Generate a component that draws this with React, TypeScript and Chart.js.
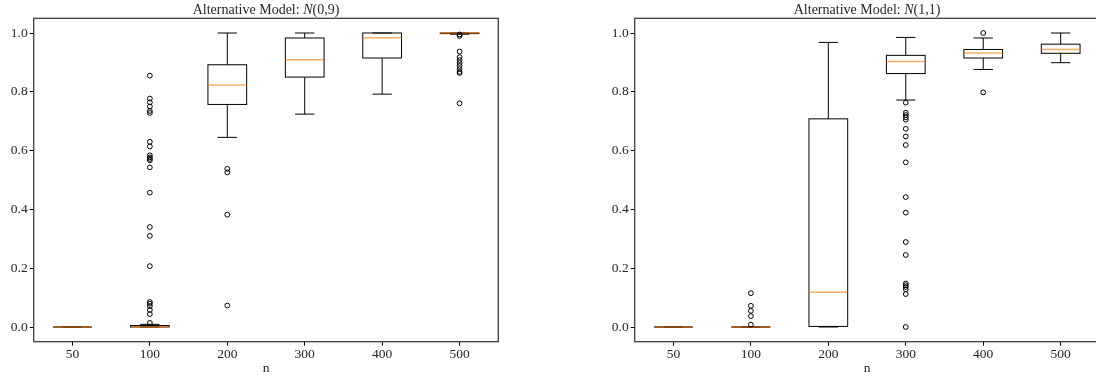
import React, { useEffect, useRef } from 'react';
import { Chart, registerables } from 'chart.js';

Chart.register(...registerables);

// ---------- data ----------
const CATEGORIES = ['50', '100', '200', '300', '400', '500'];
const Y_TICKS = [0, 0.2, 0.4, 0.6, 0.8, 1.0];
const X_LABEL = 'n';

// Left panel: Alternative Model N(0,9)
const LEFT_TITLE = ['Alternative Model: ', 'N', '(0,9)'];
const LEFT_WHISKER_LOW = [0, 0, 0.645, 0.724, 0.792, 0.996];
const LEFT_Q1 = [0, 0, 0.757, 0.85, 0.915, 0.998];
const LEFT_MEDIAN = [0, 0, 0.823, 0.909, 0.984, 1.0];
const LEFT_Q3 = [0, 0.005, 0.892, 0.983, 1.0, 1.0];
const LEFT_WHISKER_HIGH = [0, 0.009, 1.0, 1.0, 1.0, 1.0];
const LEFT_OUTLIERS_50: number[] = [];
const LEFT_OUTLIERS_100 = [0.855, 0.777, 0.764, 0.75, 0.735, 0.728, 0.63, 0.614, 0.584, 0.577, 0.572, 0.567, 0.543, 0.457, 0.34, 0.31, 0.207, 0.085, 0.079, 0.071, 0.058, 0.044, 0.014];
const LEFT_OUTLIERS_200 = [0.538, 0.526, 0.382, 0.073];
const LEFT_OUTLIERS_300: number[] = [];
const LEFT_OUTLIERS_400: number[] = [];
const LEFT_OUTLIERS_500 = [0.995, 0.99, 0.937, 0.918, 0.908, 0.898, 0.888, 0.877, 0.868, 0.864, 0.761];

// Right panel: Alternative Model N(1,1)
const RIGHT_TITLE = ['Alternative Model: ', 'N', '(1,1)'];
const RIGHT_WHISKER_LOW = [0, 0, 0, 0.772, 0.876, 0.899];
const RIGHT_Q1 = [0, 0, 0.002, 0.862, 0.915, 0.931];
const RIGHT_MEDIAN = [0, 0, 0.118, 0.903, 0.932, 0.944];
const RIGHT_Q3 = [0, 0, 0.708, 0.924, 0.944, 0.962];
const RIGHT_WHISKER_HIGH = [0, 0, 0.968, 0.985, 0.983, 1.0];
const RIGHT_OUTLIERS_50: number[] = [];
const RIGHT_OUTLIERS_100 = [0.115, 0.072, 0.055, 0.037, 0.008];
const RIGHT_OUTLIERS_200: number[] = [];
const RIGHT_OUTLIERS_300 = [0.763, 0.729, 0.721, 0.713, 0.705, 0.674, 0.648, 0.619, 0.56, 0.442, 0.389, 0.289, 0.245, 0.148, 0.142, 0.136, 0.128, 0.112, 0.0];
const RIGHT_OUTLIERS_400 = [1.0, 0.798];
const RIGHT_OUTLIERS_500: number[] = [];

// ---------- styling ----------
const FONT_FAMILY = '"Liberation Serif", "DejaVu Serif", serif';
const TEXT_COLOR = '#262626';
const MEDIAN_COLOR = 'rgba(255,127,14,0.65)';

type Stats = {
  low: number[];
  q1: number[];
  med: number[];
  q3: number[];
  high: number[];
  title: string[];
};

function makeBoxPlugin(stats: Stats) {
  return {
    id: 'boxDraw',
    beforeDatasetsDraw(chart: any) {
      const { ctx, chartArea, scales } = chart;
      const x = scales.x;
      const y = scales.y;
      const step = x.getPixelForValue(1) - x.getPixelForValue(0);
      const hw = step * 0.25;
      const cw = step * 0.125;
      ctx.save();
      ctx.beginPath();
      ctx.rect(chartArea.left, chartArea.top, chartArea.right - chartArea.left, chartArea.bottom - chartArea.top);
      ctx.clip();
      const line = (x1: number, y1: number, x2: number, y2: number) => {
        ctx.beginPath();
        ctx.moveTo(x1, y1);
        ctx.lineTo(x2, y2);
        ctx.stroke();
      };
      for (let i = 0; i < CATEGORIES.length; i++) {
        const cx = x.getPixelForValue(i);
        const pLow = y.getPixelForValue(stats.low[i]);
        const pQ1 = y.getPixelForValue(stats.q1[i]);
        const pMed = y.getPixelForValue(stats.med[i]);
        const pQ3 = y.getPixelForValue(stats.q3[i]);
        const pHigh = y.getPixelForValue(stats.high[i]);
        ctx.strokeStyle = '#000';
        ctx.lineWidth = 1;
        line(cx, pQ1, cx, pLow);
        line(cx, pQ3, cx, pHigh);
        line(cx - cw, pLow, cx + cw, pLow);
        line(cx - cw, pHigh, cx + cw, pHigh);
        ctx.strokeRect(cx - hw, pQ3, hw * 2, pQ1 - pQ3);
        ctx.strokeStyle = MEDIAN_COLOR;
        ctx.lineWidth = 1.5;
        line(cx - hw, pMed, cx + hw, pMed);
      }
      ctx.restore();
    },
    afterDraw(chart: any) {
      const { ctx, chartArea } = chart;
      ctx.save();
      // frame (all four spines)
      ctx.strokeStyle = '#404040';
      ctx.lineWidth = 1.3;
      ctx.strokeRect(chartArea.left, chartArea.top, chartArea.right - chartArea.left, chartArea.bottom - chartArea.top);
      // title with italic math symbol
      const fonts = [`14px ${FONT_FAMILY}`, `italic 14px ${FONT_FAMILY}`, `14px ${FONT_FAMILY}`];
      let total = 0;
      const widths = stats.title.map((t, k) => {
        ctx.font = fonts[k];
        const w = ctx.measureText(t).width;
        total += w;
        return w;
      });
      let tx = (chartArea.left + chartArea.right) / 2 - total / 2;
      ctx.fillStyle = TEXT_COLOR;
      ctx.textBaseline = 'middle';
      ctx.textAlign = 'left';
      stats.title.forEach((t, k) => {
        ctx.font = fonts[k];
        ctx.fillText(t, tx, 10);
        tx += widths[k];
      });
      ctx.restore();
    },
  };
}

function outlierPoints(groups: number[][]) {
  const pts: { x: string; y: number }[] = [];
  groups.forEach((g, i) => g.forEach((v) => pts.push({ x: CATEGORIES[i], y: v })));
  return pts;
}

type PanelProps = {
  width: number;
  height: number;
  axisLeft: number;
  padRight: number;
  stats: Stats;
  outliers: number[][];
};

function BoxPanel({ width, height, axisLeft, padRight, stats, outliers }: PanelProps) {
  const ref = useRef<HTMLCanvasElement | null>(null);
  useEffect(() => {
    if (!ref.current) return;
    const tickFont = { family: FONT_FAMILY, size: 13.5 };
    const chart = new Chart(ref.current, {
      type: 'line',
      data: {
        labels: CATEGORIES,
        datasets: [
          {
            data: outlierPoints(outliers) as any,
            showLine: false,
            pointRadius: 2.4,
            pointHoverRadius: 2.4,
            pointBorderWidth: 1,
            pointBorderColor: '#000',
            pointBackgroundColor: 'rgba(0,0,0,0)',
          },
        ],
      },
      options: {
        responsive: false,
        animation: false,
        devicePixelRatio: 1,
        layout: { padding: { left: 0, right: padRight, top: 18.3, bottom: 0 } },
        plugins: {
          legend: { display: false },
          tooltip: { enabled: false },
          title: { display: false },
        },
        scales: {
          x: {
            type: 'category',
            offset: true,
            grid: { offset: false, drawOnChartArea: false, drawTicks: true, tickLength: 4, color: '#000', lineWidth: 1 },
            border: { display: false },
            ticks: { font: tickFont, color: TEXT_COLOR, padding: 1, maxRotation: 0, autoSkip: false },
            title: { display: true, text: X_LABEL, font: tickFont, color: TEXT_COLOR, padding: { top: 0, bottom: 0 } },
            afterFit: (s: any) => {
              s.height = 35.3;
            },
          },
          y: {
            type: 'linear',
            min: -0.05,
            max: 1.05,
            grid: { drawOnChartArea: false, drawTicks: true, tickLength: 4, color: '#000', lineWidth: 1 },
            border: { display: false },
            ticks: {
              font: tickFont,
              color: TEXT_COLOR,
              padding: 2,
              callback: (v: any) => Number(v).toFixed(1),
            },
            afterBuildTicks: (s: any) => {
              s.ticks = Y_TICKS.map((v) => ({ value: v }));
            },
            afterFit: (s: any) => {
              s.width = axisLeft;
            },
          },
        },
      },
      plugins: [makeBoxPlugin(stats)],
    } as any);
    return () => chart.destroy();
  }, []);
  return <canvas ref={ref} width={width} height={height} style={{ width, height, display: 'block' }} />;
}

export default function App() {
  return (
    <div style={{ position: 'absolute', left: 0, top: 0, width: 1096, height: 377, overflow: 'hidden', background: '#fff' }}>
      <div style={{ position: 'absolute', left: 0, top: 0 }}>
        <BoxPanel
          width={548}
          height={377}
          axisLeft={33.7}
          padRight={49.7}
          stats={{ low: LEFT_WHISKER_LOW, q1: LEFT_Q1, med: LEFT_MEDIAN, q3: LEFT_Q3, high: LEFT_WHISKER_HIGH, title: LEFT_TITLE }}
          outliers={[LEFT_OUTLIERS_50, LEFT_OUTLIERS_100, LEFT_OUTLIERS_200, LEFT_OUTLIERS_300, LEFT_OUTLIERS_400, LEFT_OUTLIERS_500]}
        />
      </div>
      <div style={{ position: 'absolute', left: 548, top: 0 }}>
        <BoxPanel
          width={560}
          height={377}
          axisLeft={86.7}
          padRight={8.6}
          stats={{ low: RIGHT_WHISKER_LOW, q1: RIGHT_Q1, med: RIGHT_MEDIAN, q3: RIGHT_Q3, high: RIGHT_WHISKER_HIGH, title: RIGHT_TITLE }}
          outliers={[RIGHT_OUTLIERS_50, RIGHT_OUTLIERS_100, RIGHT_OUTLIERS_200, RIGHT_OUTLIERS_300, RIGHT_OUTLIERS_400, RIGHT_OUTLIERS_500]}
        />
      </div>
    </div>
  );
}
